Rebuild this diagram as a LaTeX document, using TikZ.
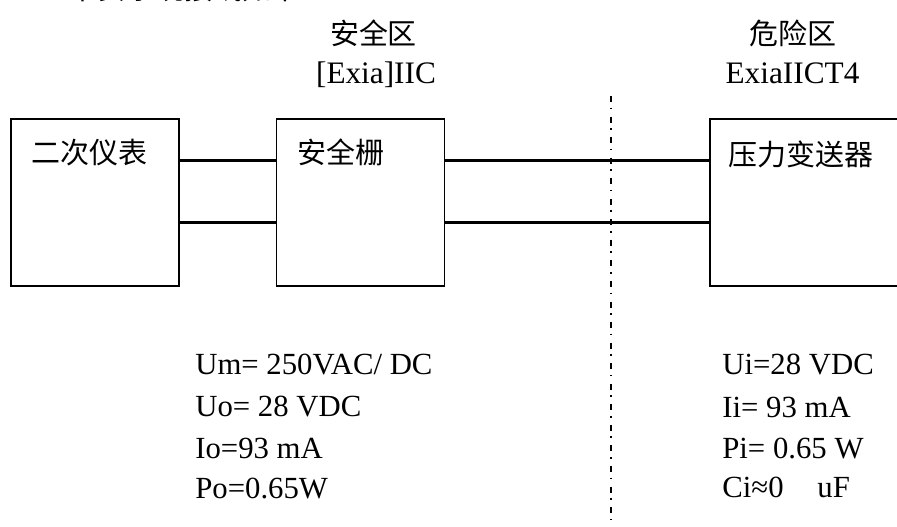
\documentclass[tikz,border=0pt]{standalone}
\usepackage{fontspec}
\setmainfont{Liberation Serif}
\newfontfamily\cjk{Noto Sans CJK SC}
\usetikzlibrary{positioning,calc}
\tikzset{
  box/.style={draw, line width=0.9pt, minimum width=3.36cm, minimum height=3.34cm, inner sep=0pt},
  wire/.style={line width=1.7pt},
  zone/.style={line width=0.9pt, dash pattern=on 3.4pt off 3.2pt on 0.9pt off 4.2pt},
  hz/.style={font=\cjk\fontsize{16.5pt}{20pt}\selectfont, inner sep=0pt},
  cls/.style={font=\fontsize{17.8pt}{22pt}\selectfont, inner sep=0pt, anchor=base},
  param/.style={font=\fontsize{17.5pt}{22pt}\selectfont, inner sep=0pt, anchor=base west},
}
\begin{document}
\begin{tikzpicture}[x=0.02cm, y=-0.02cm]
  \clip (0,0) rectangle (897,527);
  % caption, cut off at the top
  \node[hz, anchor=south west] (cap) at (68,2) {本安系统接线如下};
  % zone titles
  \node[hz] (safe) at (373.5,33.3) {安全区};
  \node[cls] (safecls) at (376,83.3) {[Exia]IIC};
  \node[hz] (haz) at (793,33.3) {危险区};
  \node[cls] (hazcls) at (792.5,83.3) {ExiaIICT4};
  % boxes
  \node[box] (b1) at (95,202.5) {};
  \node[box, right=1.92cm of b1] (b2) {};
  \node[box, minimum width=4.6cm, right=5.28cm of b2] (b3) {};
  \node[hz, anchor=west] (t1) at ($(b1.north west)+(21,34)$) {二次仪表};
  \node[hz, anchor=west] (t2) at ($(b2.north west)+(21,34)$) {安全栅};
  \node[hz, anchor=west] (t3) at ($(b3.north west)+(19,36)$) {压力变送器};
  % two wires
  \draw[wire] ($(b1.north east)+(0,42)$) -- ($(b2.north west)+(0,42)$);
  \draw[wire] ($(b1.north east)+(0,104)$) -- ($(b2.north west)+(0,104)$);
  \draw[wire] ($(b2.north east)+(0,42)$) -- ($(b3.north west)+(0,42)$);
  \draw[wire] ($(b2.north east)+(0,104)$) -- ($(b3.north west)+(0,104)$);
  % zone border
  \coordinate (ztop) at (611,96);
  \coordinate (zbot) at (611,530);
  \draw[zone] (ztop) -- (zbot);
  % barrier data
  \node[param] (um) at (195,375) {Um= 250VAC/ DC};
  \node[param] (uo) at (195,416.7) {Uo= 28 VDC};
  \node[param] (io) at (195,458.3) {Io=93 mA};
  \node[param] (po) at (195,498) {Po=0.65W};
  % transmitter data
  \node[param] (ui) at (722,375) {Ui=28 VDC};
  \node[param] (ii) at (722,418) {Ii= 93 mA};
  \node[param] (pi) at (722,458) {Pi= 0.65 W};
  \node[param] (ci) at (722,497) {Ci≈0\hspace{1.1em}uF};
\end{tikzpicture}
\end{document}
